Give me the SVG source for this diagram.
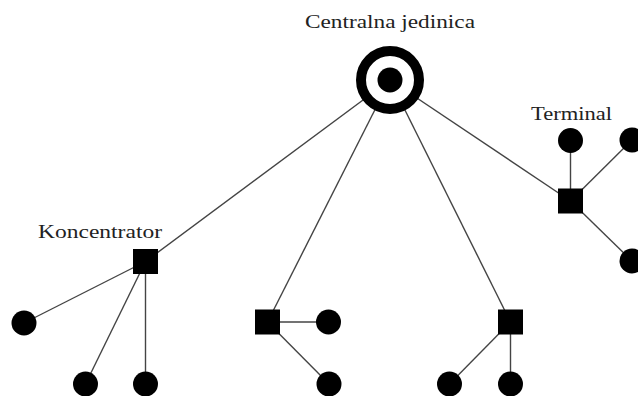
<svg xmlns="http://www.w3.org/2000/svg" width="638" height="396" viewBox="0 0 638 396">
<style>
.c{stroke:#444;stroke-width:1.4;fill:none}
.n{fill:#000}
.t{font-family:"Liberation Serif","Times New Roman",serif;font-size:18px;fill:#222}
</style>
<rect width="638" height="396" fill="#fff"/>
<g id="connectors">
<line class="c" x1="390" y1="80" x2="145.5" y2="261.5"/>
<line class="c" x1="390" y1="80" x2="267.5" y2="322"/>
<line class="c" x1="390" y1="80" x2="510.5" y2="322"/>
<line class="c" x1="390" y1="80" x2="570.5" y2="201"/>
<line class="c" x1="145.5" y1="261.5" x2="24" y2="323"/>
<line class="c" x1="145.5" y1="261.5" x2="85.5" y2="384"/>
<line class="c" x1="145.5" y1="261.5" x2="145.5" y2="384"/>
<line class="c" x1="267.5" y1="322" x2="328.5" y2="322"/>
<line class="c" x1="267.5" y1="322" x2="329" y2="384"/>
<line class="c" x1="510.5" y1="322" x2="449.5" y2="384"/>
<line class="c" x1="510.5" y1="322" x2="510.5" y2="384"/>
<line class="c" x1="570.5" y1="201" x2="570.5" y2="140.5"/>
<line class="c" x1="570.5" y1="201" x2="632" y2="140"/>
<line class="c" x1="570.5" y1="201" x2="632" y2="261"/>
</g>
<g id="central">
<circle cx="390" cy="80" r="29" fill="#fff" stroke="#000" stroke-width="10"/>
<circle class="n" cx="390" cy="80" r="12.5"/>
<text class="t" x="390" y="28" text-anchor="middle" textLength="170" lengthAdjust="spacingAndGlyphs">Centralna jedinica</text>
</g>
<g id="koncentrator">
<rect class="n" x="133" y="249" width="25" height="25"/>
<text class="t" x="38" y="238" textLength="124" lengthAdjust="spacingAndGlyphs">Koncentrator</text>
</g>
<g id="k1"><circle class="n" cx="24" cy="323" r="12.5"/></g>
<g id="k2"><circle class="n" cx="85.5" cy="384" r="12.5"/></g>
<g id="k3"><circle class="n" cx="145.5" cy="384" r="12.5"/></g>
<g id="mid-hub"><rect class="n" x="255" y="309.5" width="25" height="25"/></g>
<g id="m1"><circle class="n" cx="328.5" cy="322" r="12.5"/></g>
<g id="m2"><circle class="n" cx="329" cy="384" r="12.5"/></g>
<g id="right-hub"><rect class="n" x="498" y="309.5" width="25" height="25"/></g>
<g id="r1"><circle class="n" cx="449.5" cy="384" r="12.5"/></g>
<g id="r2"><circle class="n" cx="510.5" cy="384" r="12.5"/></g>
<g id="terminal">
<rect class="n" x="558" y="188.5" width="25" height="25"/>
<text class="t" x="531" y="120" textLength="81" lengthAdjust="spacingAndGlyphs">Terminal</text>
</g>
<g id="t1"><circle class="n" cx="570.5" cy="140.5" r="12.5"/></g>
<g id="t2"><circle class="n" cx="632" cy="140" r="12.5"/></g>
<g id="t3"><circle class="n" cx="632" cy="261" r="12.5"/></g>
</svg>
